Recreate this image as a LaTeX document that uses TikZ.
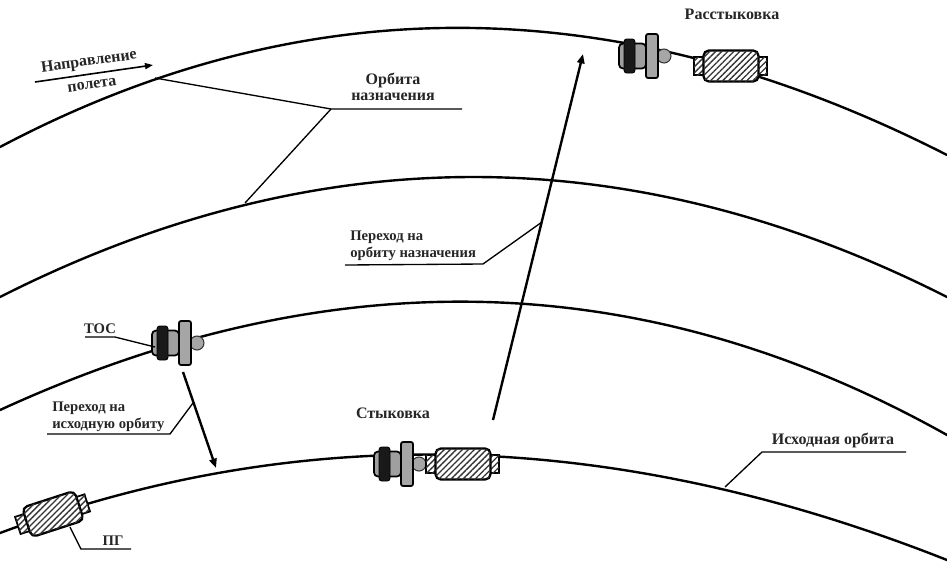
\documentclass[tikz,border=0pt]{standalone}
\usepackage{fontspec}
\setmainfont{Liberation Serif}
\usetikzlibrary{patterns.meta,arrows.meta,calc}
\tikzset{
  orbit/.style={line width=1.8pt,line cap=round},
  leader/.style={line width=1pt},
  flow/.style={line width=1.8pt,-{Triangle[length=7pt,width=5.5pt]}},
  lbl/.style={font=\bfseries\fontsize{12}{13}\selectfont,text=black!85,inner sep=0pt,anchor=center},
  lblsm/.style={lbl,font=\bfseries\fontsize{11}{12}\selectfont},
  lblleft/.style={lblsm,anchor=west},
  hatchfill/.style={fill=white,postaction={pattern={Lines[angle=45,distance=3.2pt,line width=1pt]},pattern color=black!80}},
  outline/.style={draw=black,line width=1.3pt},
  pics/tosunit/.style={code={
    \draw[outline,fill=gray!75,rounded corners=3pt] (-33,-12.5) rectangle (-6,12.5);
    \draw[draw=black,line width=0.6pt,fill=black!90,rounded corners=2pt] (-28,-17) rectangle (-17,17);
    \draw[draw=black!80,line width=0.8pt,fill=gray!70] (12,0) circle (7);
    \draw[outline,fill=gray!70,rounded corners=1.5pt] (-6,-22) rectangle (6,22);
  }},
  pics/pgunit/.style={code={
    \draw[outline,hatchfill] (-37,-9) rectangle (-26,9);
    \draw[outline,hatchfill] (26,-9) rectangle (36,9);
    \draw[draw=black,line width=1.7pt,hatchfill,rounded corners=4pt] (-27.5,-15.5) rectangle (27.5,15.5);
  }}
}
\begin{document}
\begin{tikzpicture}[x=0.75pt,y=-0.75pt]
\useasboundingbox (0,0) rectangle (947,562);
\fill[white] (0,0) rectangle (947,562);
% orbits
\draw[orbit] (0,147) .. controls (316,-20) and (631,-6) .. (947,155);
\draw[orbit] (0,297) .. controls (316,137) and (631,137) .. (947,297);
\draw[orbit] (0,410) .. controls (316,265) and (631,258) .. (947,435);
\draw[orbit] (0,533) .. controls (316,415) and (631,435) .. (947,560);
% devices
\pic (tosa) at (185,343) {tosunit};
\pic[rotate=18] (pga) at (53,514) {pgunit};
\pic (tosb) at (407,464) {tosunit};
\pic (pgb) at (463,464) {pgunit};
\pic (tosc) at (652,56) {tosunit};
\pic (pgc) at (731,66) {pgunit};
% anchors
\coordinate (o1) at (155,78);
\coordinate (o2) at (245,203);
\coordinate (d1) at (331,109);
\coordinate (d2) at (462,109);
\coordinate (t1) at (345,265);
\coordinate (t2) at (483,264);
\coordinate (t3) at (542,222);
\coordinate (s1) at (493,420);
\coordinate (s2) at (583,54);
\coordinate (h1) at (47,434);
\coordinate (h2) at (170,434);
\coordinate (h3) at (193,403);
\coordinate (a1) at (183,372);
\coordinate (a2) at (216,468);
\coordinate (c1) at (85,337);
\coordinate (c2) at (115,337);
\coordinate (c3) at (155,347);
\coordinate (i1) at (906,452);
\coordinate (i2) at (762,452);
\coordinate (i3) at (725,487);
\coordinate (p1) at (70,527);
\coordinate (p2) at (81,549);
\coordinate (p3) at (131,549);
\coordinate (f1) at (35,82);
\coordinate (f2) at (153,65);
% leaders
\draw[leader] (o1) -- (d1) -- (d2);
\draw[leader] (o2) -- (d1);
\draw[leader] (t1) -- (t2) -- (t3);
\draw[leader] (h1) -- (h2) -- (h3);
\draw[leader] (c1) -- (c2) -- (c3);
\draw[leader] (i1) -- (i2) -- (i3);
\draw[leader] (p1) -- (p2) -- (p3);
% arrows
\draw[flow] (s1) -- (s2);
\draw[flow] (a1) -- (a2);
\draw[line width=1.2pt,-{Triangle[length=6pt,width=4.5pt]}] (f1) -- (f2);
% texts
\node[lbl] (tr) at (732,14) {Расстыковка};
\node[lbl] (tn1) at (393,80) {Орбита};
\node[lbl] (tn2) at (393,97) {назначения};
\node[lbl,rotate=8] (tf1) at (89,62) {Направление};
\node[lbl,rotate=8] (tf2) at (92,85) {полета};
\node[lblleft] (tp1) at (350,237) {Переход на};
\node[lblleft] (tp2) at (350,254) {орбиту назначения};
\node[lblsm] (tt) at (100,329) {ТОС};
\node[lblleft] (tq1) at (52,408) {Переход на};
\node[lblleft] (tq2) at (52,425) {исходную орбиту};
\node[lbl] (ts) at (393,413) {Стыковка};
\node[lbl] (ti) at (833,440) {Исходная орбита};
\node[lblsm] (tg) at (113,541) {ПГ};
\end{tikzpicture}
\end{document}
